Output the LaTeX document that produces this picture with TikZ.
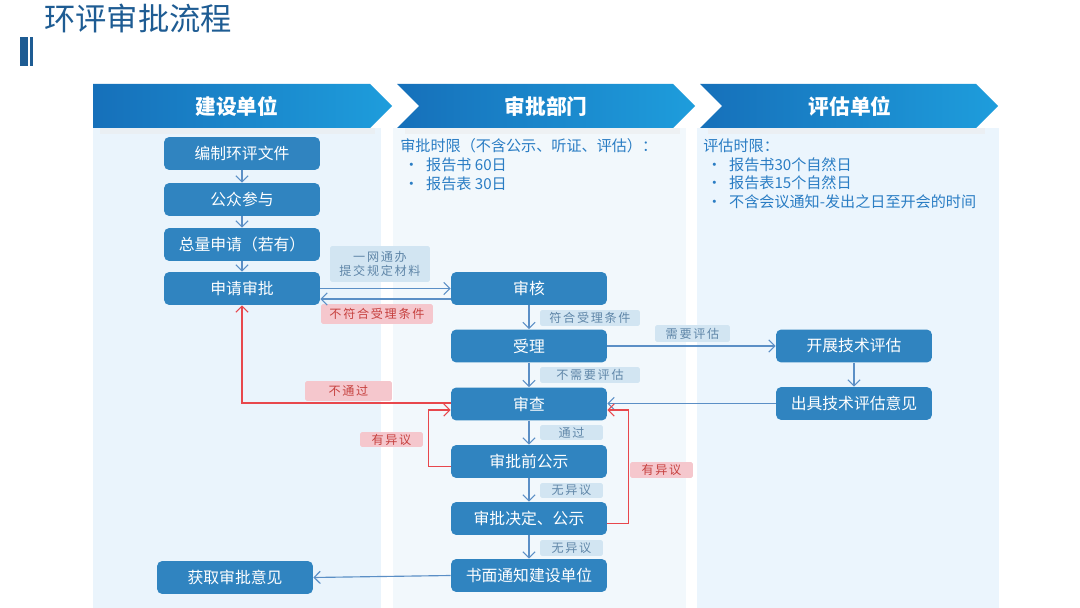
\documentclass[tikz,border=0pt]{standalone}
\usepackage{fontspec}
\newfontfamily\cjk{Noto Sans CJK SC}
\newfontfamily\labf{Noto Sans CJK SC}[LetterSpace=14]
\usetikzlibrary{arrows.meta,calc}
\definecolor{boxblue}{HTML}{3084C0}
\definecolor{arrblue}{HTML}{5B8FC6}
\definecolor{titleblue}{HTML}{1E5C93}
\definecolor{hdrdark}{HTML}{1670BA}
\definecolor{hdrlight}{HTML}{1E9DDC}
\definecolor{colA}{HTML}{EAF4FC}
\definecolor{colB}{HTML}{F2F8FC}
\definecolor{colC}{HTML}{EBF5FD}
\definecolor{infoblue}{HTML}{2A7DC4}
\definecolor{lblfill}{HTML}{D2E5F2}
\definecolor{lbltext}{HTML}{5F86A8}
\definecolor{pinkfill}{HTML}{F5C7CD}
\definecolor{pinktext}{HTML}{C6403E}
\definecolor{redline}{HTML}{E8474C}
\tikzset{
  box/.style={rectangle, rounded corners=3pt, fill=boxblue, text=white,
    minimum width=3.12cm, minimum height=0.66cm, inner sep=0pt,
    font=\cjk\fontsize{9}{10}\selectfont},
  hdr/.style={text=white, font=\cjk\bfseries\fontsize{11.8}{13}\selectfont, inner sep=0pt},
  info/.style={anchor=north west, align=left, text=infoblue, inner sep=0pt,
    font=\cjk\fontsize{8.6}{10.8}\selectfont},
  lbl/.style={fill=lblfill, text=lbltext, inner sep=0pt, rounded corners=1pt,
    font=\labf\fontsize{6.9}{8.2}\selectfont, align=center},
  plbl/.style={lbl, fill=pinkfill, text=pinktext},
  arr/.style={draw=arrblue, line width=0.65pt, -{Straight Barb[length=3.5pt,width=7pt]}},
  rarr/.style={draw=redline, line width=0.65pt, -{Straight Barb[length=3.5pt,width=7pt]}},
}
\newcommand{\bul}{\hspace*{2pt}\makebox[12.7pt][l]{•}}
\begin{document}
\begin{tikzpicture}[x=0.02cm,y=-0.02cm]
\useasboundingbox (0,0) rectangle (1080,608);
\fill[white] (0,0) rectangle (1080,608);
% title
\node[anchor=west, inner sep=0pt, text=titleblue, font=\cjk\fontsize{17.8}{20}\selectfont] (title) at (44,18) {环评审批流程};
\fill[titleblue] (20,37) rectangle (28,66);
\fill[titleblue] (29.5,37) rectangle (33,66);
% column backgrounds
\fill[colA] (93,128) rectangle (381,608);
\fill[colB] (393,128) rectangle (686,608);
\fill[colC] (697,128) rectangle (999,608);
% soft shadow under headers
\fill[black!8, opacity=0.5] (100,128) rectangle (375,134);
\fill[black!8, opacity=0.5] (405,128) rectangle (680,134);
\fill[black!8, opacity=0.5] (708,128) rectangle (985,134);
% headers
\shade[left color=hdrdark, right color=hdrlight] (93,84) -- (370,84) -- (392,106) -- (370,128) -- (93,128) -- cycle;
\shade[left color=hdrdark, right color=hdrlight] (397,84) -- (673,84) -- (695,106) -- (673,128) -- (397,128) -- (419,106) -- cycle;
\shade[left color=hdrdark, right color=hdrlight] (700,84) -- (976,84) -- (998,106) -- (976,128) -- (700,128) -- (722,106) -- cycle;
\node[hdr] (h1) at (237,106) {建设单位};
\node[hdr] (h2) at (546,106) {审批部门};
\node[hdr] (h3) at (850,106) {评估单位};
% info texts
\node[info] (t2) at (400,138) {审批时限（不含公示、听证、评估）：\\
\bul 报告书 60日\\
\bul 报告表 30日};
\node[info] (t3) at (703,138) {评估时限：\\
\bul 报告书30个自然日\\
\bul 报告表15个自然日\\
\bul 不含会议通知-发出之日至开会的时间};
% boxes
\node[box] (bz) at (242,153.5) {编制环评文件};
\node[box] (gz) at (242,199.5) {公众参与};
\node[box] (zl) at (242,244.5) {总量申请（若有）};
\node[box] (sq) at (242,288.5) {申请审批};
\node[box] (hq) at (235,577.5) {获取审批意见};
\node[box] (sh) at (529,288.5) {审核};
\node[box] (sl) at (529,346) {受理};
\node[box] (sc) at (529,404) {审查};
\node[box] (gs) at (529,461.5) {审批前公示};
\node[box] (jd) at (529,518.5) {审批决定、公示};
\node[box] (sm) at (529,575.5) {书面通知建设单位};
\node[box] (kz) at (854,346) {开展技术评估};
\node[box] (cj) at (854,403.5) {出具技术评估意见};
% labels
\node[lbl, minimum width=2cm, minimum height=0.72cm] (l1) at (380,264) {一网通办\\提交规定材料};
\node[plbl, minimum width=2.24cm, minimum height=0.4cm] (l2) at (377,314) {不符合受理条件};
\node[lbl, minimum width=2cm, minimum height=0.32cm] (l3) at (590,318) {符合受理条件};
\node[lbl, minimum width=1.5cm, minimum height=0.34cm] (l4) at (692.5,333.5) {需要评估};
\node[lbl, minimum width=2cm, minimum height=0.32cm] (l5) at (590,375) {不需要评估};
\node[lbl, minimum width=1.26cm, minimum height=0.3cm] (l6) at (571.5,432.5) {通过};
\node[lbl, minimum width=1.26cm, minimum height=0.3cm] (l7) at (571.5,490.5) {无异议};
\node[lbl, minimum width=1.26cm, minimum height=0.32cm] (l8) at (571.5,548) {无异议};
\node[plbl, minimum width=1.74cm, minimum height=0.4cm] (l9) at (348.5,391) {不通过};
\node[plbl, minimum width=1.26cm, minimum height=0.3cm] (l10) at (391.5,439.5) {有异议};
\node[plbl, minimum width=1.26cm, minimum height=0.32cm] (l11) at (661.5,470) {有异议};
% arrows
\draw[arr] (bz) -- (gz);
\draw[arr] (gz) -- (zl);
\draw[arr] (zl) -- (sq);
\draw[arr] (sq.east) -- (sh.west);
\draw[arr] ($(sh.west)+(0,10.5)$) -- ($(sq.east)+(0,10.5)$);
\draw[arr] (sh) -- (sl);
\draw[arr] (sl) -- (sc);
\draw[arr] (sc) -- (gs);
\draw[arr] (gs) -- (jd);
\draw[arr] (jd) -- (sm);
\draw[arr] (sl) -- (kz);
\draw[arr] (kz) -- (cj);
\draw[arr] (cj.west) -- (cj.west -| sc.east);
\draw[arr] (sm.west) -- (hq.east);
% red loops
\draw[rarr] ($(sc.west)+(0,-1)$) -| (sq.south);
\draw[rarr] ($(gs.west)+(0,5)$) -- ++(-22,0) |- ($(sc.west)+(0,6)$);
\draw[rarr] ($(jd.east)+(0,5)$) -- ++(21,0) |- ($(sc.east)+(0,6)$);
\end{tikzpicture}
\end{document}
